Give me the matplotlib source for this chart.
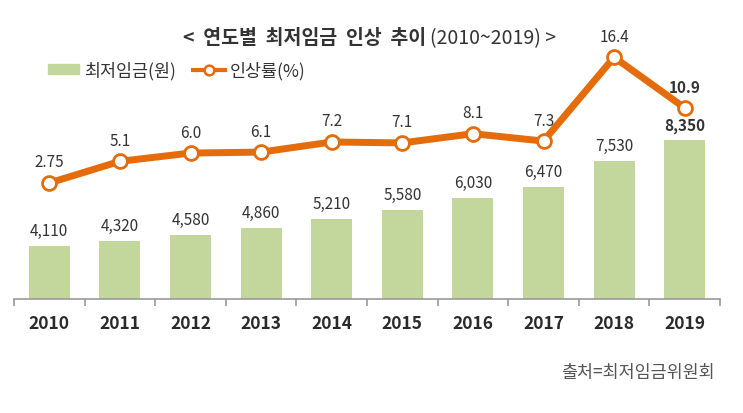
import matplotlib
matplotlib.use("Agg")
import matplotlib.pyplot as plt
from matplotlib.patches import Patch
from matplotlib.lines import Line2D

plt.rcParams['font.family'] = ['Noto Sans CJK KR', 'DejaVu Sans']

years = ['2010', '2011', '2012', '2013', '2014', '2015', '2016', '2017', '2018', '2019']
wage = [4110, 4320, 4580, 4860, 5210, 5580, 6030, 6470, 7530, 8350]
rate = [2.75, 5.1, 6.0, 6.1, 7.2, 7.1, 8.1, 7.3, 16.4, 10.9]
rate_labels = ['2.75', '5.1', '6.0', '6.1', '7.2', '7.1', '8.1', '7.3', '16.4', '10.9']

BAR = '#c3d69b'
LINE = '#e46c0a'
W, H = 743, 414

fig = plt.figure(figsize=(W / 100, H / 100), dpi=100)
ax_left, ax_right = 14 / W, 720 / W
ax_bot, ax_top_px = 1 - 300 / H, 30
ax = fig.add_axes([ax_left, ax_bot, ax_right - ax_left, (300 - ax_top_px) / H])
x = list(range(len(years)))

ax.bar(x, wage, width=0.58, color=BAR, zorder=2)
ax.set_xlim(-0.5, len(years) - 0.5)
ax.set_ylim(2000, 2000 + (300 - ax_top_px) / 0.025)
for i, v in enumerate(wage):
    ax.annotate(f'{v:,}', (i, v), xytext=(0, 5), textcoords='offset points',
                ha='center', va='bottom', fontsize=11, color='#333333',
                fontweight='bold' if i == len(wage) - 1 else 'normal')

for s in ['top', 'right', 'left']:
    ax.spines[s].set_visible(False)
ax.spines['bottom'].set_color('#999999')
ax.spines['bottom'].set_linewidth(1.2)
ax.set_yticks([])
ax.set_xticks([i - 0.5 for i in range(len(years) + 1)])
ax.set_xticklabels([])
ax.tick_params(axis='x', length=5, color='#999999', width=1.2)
for i, y in enumerate(years):
    ax.text(i, -0.055, y, transform=ax.get_xaxis_transform(), ha='center', va='top',
            fontsize=12.5, fontweight='bold', color='#2a2a2a')

ax2 = ax.twinx()
zero_px, scale = 209.3, 9.21
ax2.set_ylim(-(300 - zero_px) / scale, (zero_px - ax_top_px) / scale)
ax2.plot(x, rate, color=LINE, lw=5, marker='o', ms=10, mfc='white', mec=LINE, mew=2.0, zorder=3)
for s in ['top', 'right', 'left', 'bottom']:
    ax2.spines[s].set_visible(False)
ax2.set_yticks([])
for i, (v, lab) in enumerate(zip(rate, rate_labels)):
    ax2.annotate(lab, (i, v), xytext=(0, 9), textcoords='offset points',
                 ha='center', va='bottom', fontsize=11, color='#333333',
                 fontweight='bold' if i == len(rate) - 1 else 'normal')

ty = 1 - 39 / H
fig.text(426 / W, ty, '<  연도별  최저임금  인상  추이', ha='right', va='center',
         fontsize=14, fontweight='bold', color='#333333')
fig.text(430 / W, ty, '(2010~2019) >', ha='left', va='center',
         fontsize=14, color='#333333')

handles = [Patch(color=BAR, label='최저임금(원)'),
           Line2D([0], [0], color=LINE, lw=3, marker='o', ms=7, mfc='white', mec=LINE, mew=1.8,
                  label='인상률(%)')]
fig.legend(handles=handles, loc='center left', bbox_to_anchor=(32 / W, 1 - 71 / H), ncol=2,
           frameon=False, fontsize=12.5, handlelength=1.8, handleheight=0.5, columnspacing=1.0,
           handletextpad=0.3, labelcolor='#333333')

fig.text(715 / W, 1 - 373 / H, '출처=최저임금위원회', ha='right', va='center',
         fontsize=12.5, color='#555555')

fig.savefig('out.png', dpi=100)
